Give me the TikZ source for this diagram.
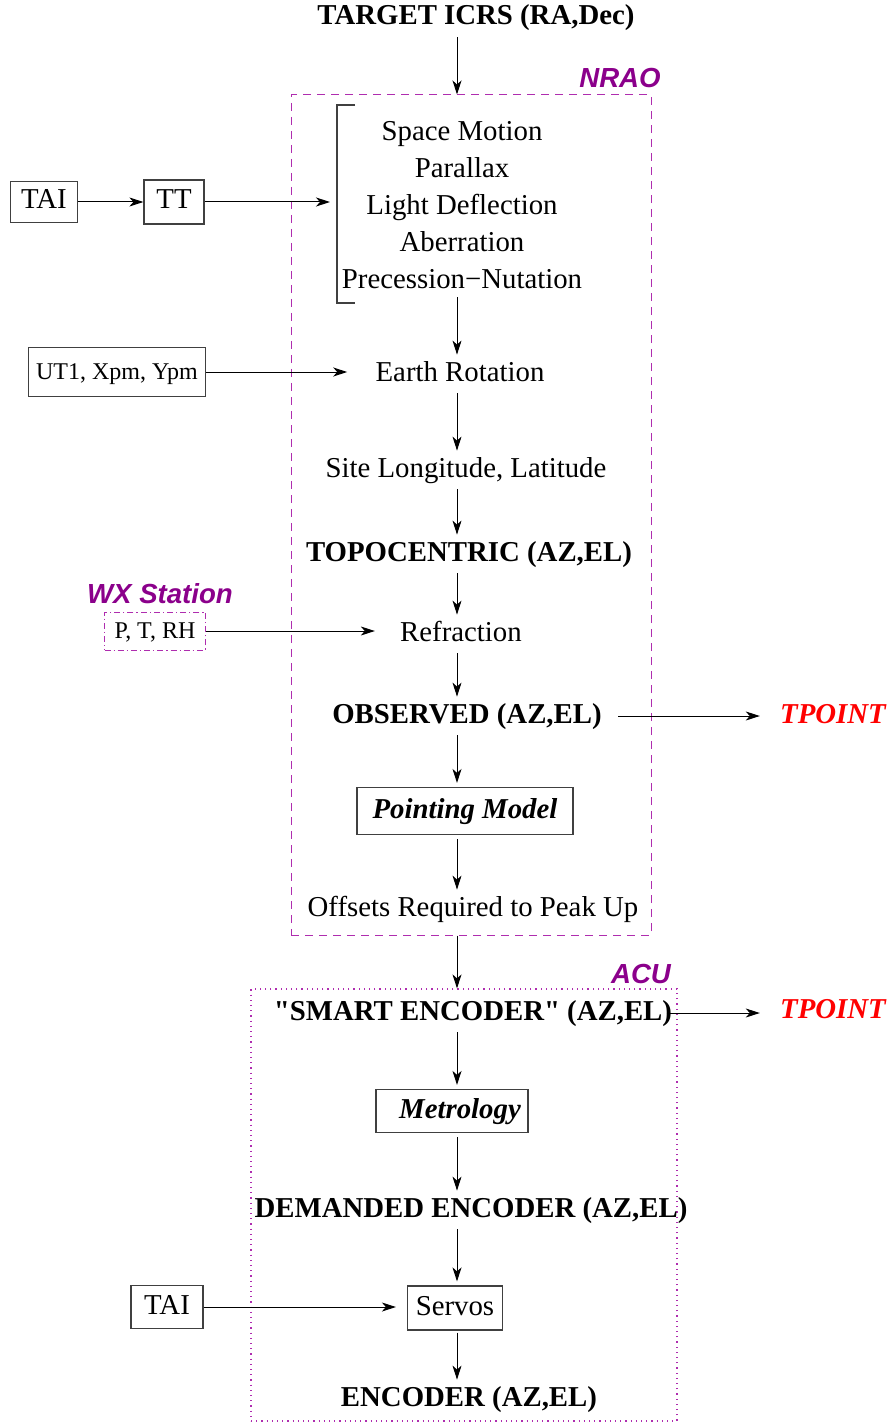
\documentclass[tikz,border=0pt]{standalone}
\usepackage{fontspec}
\setmainfont{Liberation Serif}
\newfontfamily\rawserif{Liberation Serif}
\newfontfamily\tagfont{Liberation Sans}
\usetikzlibrary{arrows.meta,fit}
\definecolor{tagpurple}{RGB}{139,0,139}
\definecolor{framepink}{RGB}{175,45,175}
\newcommand{\dq}{{\rawserif\bfseries"}}
\begin{document}
\begin{tikzpicture}[x=0.5pt, y=-0.5pt,
  txt/.style={font=\fontsize{14.4}{18.5}\selectfont, inner sep=3pt, text height=10pt, text depth=3pt},
  txtbf/.style={txt, font=\fontsize{14.4}{18.5}\selectfont\bfseries},
  small/.style={txt, font=\fontsize{12}{14}\selectfont},
  box/.style={draw=black!75, line width=0.6pt},
  tag/.style={font=\fontsize{13.8}{16}\selectfont\tagfont\bfseries\itshape, text=tagpurple, inner sep=0pt},
  tpoint/.style={txt, font=\fontsize{14.4}{18.5}\selectfont\bfseries\itshape, text=red},
  flow/.style={-{Stealth[length=7pt,width=4.5pt,inset=2pt]}, line width=0.5pt},
  nraoframe/.style={draw=framepink, line width=0.5pt, dash pattern=on 4pt off 3pt, inner sep=0pt},
  acuframe/.style={draw=framepink, line width=0.6pt, dash pattern=on 0.6pt off 2pt, inner sep=0pt},
  wxframe/.style={draw=framepink, line width=0.5pt, dash pattern=on 3pt off 1.5pt on 0.6pt off 1.5pt}]
\useasboundingbox (0,0) rectangle (889,1423);
\coordinate (axis) at (457,0);

% frames
\node[nraoframe, fit={(291,95) (651,935)}] (nrao) {};
\node[acuframe, fit={(251,989) (677,1421)}] (acu) {};
\node[tag] (nraotag) at (620,78) {NRAO};
\node[tag] (acutag) at (641,974) {ACU};
\node[tag] (wxtag) at (160,594) {WX Station};

% main chain
\node[txtbf] (target) at (476,18) {TARGET ICRS (RA,Dec)};
\node[font=\fontsize{14.4}{18.5}\selectfont, align=center, inner sep=0pt] (effects) at (462,205)
  {Space Motion\\Parallax\\Light Deflection\\Aberration\\Precession−Nutation};
\draw[black!75, line width=0.6pt] (355,105) -- (337,105) -- (337,303) -- (355,303);
\coordinate (brk) at (337,202);
\node[txt] (earth) at (460,374) {Earth Rotation};
\node[txt] (site) at (466,470) {Site Longitude, Latitude};
\node[txtbf] (topo) at (469,554) {TOPOCENTRIC (AZ,EL)};
\node[txt] (refr) at (461,634) {Refraction};
\node[txtbf] (observed) at (467,716) {OBSERVED (AZ,EL)};
\node[txt, box, font=\fontsize{14.4}{18.5}\selectfont\bfseries\itshape, minimum width=108pt, minimum height=23.5pt] (pmodel) at (465,811) {Pointing Model};
\node[txt] (offsets) at (473,909) {Offsets Required to Peak Up};
\node[txtbf] (smart) at (473,1013) {\dq SMART ENCODER\dq{} (AZ,EL)};
\node[txt, box, font=\fontsize{14.4}{18.5}\selectfont\bfseries\itshape, minimum width=76pt, minimum height=21.5pt] (metro) at (452,1111) {\hspace*{8pt}Metrology};
\node[txtbf] (demanded) at (471,1210) {DEMANDED ENCODER (AZ,EL)};
\node[txt, box, minimum width=47.5pt, minimum height=22pt] (servos) at (455,1308) {Servos};
\node[txtbf] (encoder) at (469,1399) {ENCODER (AZ,EL)};

% inputs on the left
\node[txt, box, minimum width=33.5pt, minimum height=20.5pt] (tai) at (44,202) {TAI};
\node[txt, box, minimum width=30pt, minimum height=22pt] (tt) at (174,202) {TT};
\node[small, box, minimum width=88.5pt, minimum height=24.5pt] (ut) at (117,372) {UT1, Xpm, Ypm};
\node[small, wxframe, minimum width=50.5pt, minimum height=19pt] (wx) at (155,631) {P, T, RH};
\node[txt, box, minimum width=36pt, minimum height=21.5pt] (taiB) at (167,1307) {TAI};

% outputs on the right
\node[tpoint] (tpointA) at (833,716) {TPOINT};
\node[tpoint] (tpointB) at (833,1011) {TPOINT};

% connectors
\draw[flow] (target.south -| axis) -- (nrao.north -| axis);
\draw[flow] (tai) -- (tt);
\draw[flow] (tt) -- ([xshift=-3.5pt]brk);
\draw[flow] (effects.south -| axis) ++(0,8) -- (earth.north -| axis);
\draw[flow, shorten >=11pt] (ut.east) -- (ut.east -| earth.west);
\draw[flow] (earth.south -| axis) -- (site.north -| axis);
\draw[flow] (site.south -| axis) -- (topo.north -| axis);
\draw[flow] (topo.south -| axis) -- (refr.north -| axis);
\draw[flow, shorten >=9.5pt] (wx.east) -- (wx.east -| refr.west);
\draw[flow] (refr.south -| axis) -- (observed.north -| axis);
\draw[flow, shorten <=5pt, shorten >=7pt] (observed.east) -- (observed.east -| tpointA.west);
\draw[flow, shorten >=2pt] (observed.south -| axis) -- (pmodel.north -| axis);
\draw[flow, shorten <=2pt] (pmodel.south -| axis) -- (offsets.north -| axis);
\draw[flow] (nrao.south -| axis) -- (acu.north -| axis);
\draw[flow, shorten <=-6pt, shorten >=7pt] (smart.east) -- (smart.east -| tpointB.west);
\draw[flow, shorten >=2pt] (smart.south -| axis) -- (metro.north -| axis);
\draw[flow, shorten <=2pt] (metro.south -| axis) -- (demanded.north -| axis);
\draw[flow, shorten >=2pt] (demanded.south -| axis) -- (servos.north -| axis);
\draw[flow, shorten >=5.5pt] (taiB) -- (taiB -| servos.west);
\draw[flow, shorten <=1pt] (servos.south -| axis) -- (encoder.north -| axis);
\end{tikzpicture}
\end{document}
